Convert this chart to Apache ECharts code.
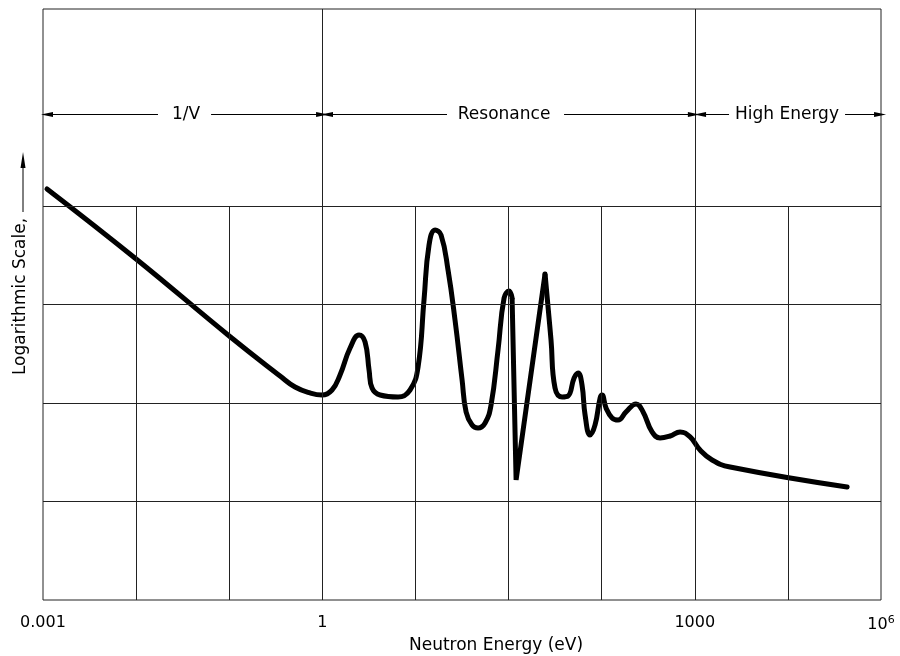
<!DOCTYPE html>
<html><head><meta charset="utf-8">
<script src="https://cdn.jsdelivr.net/npm/echarts@6/dist/echarts.min.js"></script>
<style>html,body{margin:0;padding:0;background:#fff}#c{width:900px;height:656px}</style>
</head><body><div id="c"></div>
<script>
// Schematic x axis: 9 equal divisions, labelled at a few positions
const tickPositions = [0, 3, 7, 9];
const tickLabels = ['0.001', '1', '1000', '10{sup|6}'];
// Header regions
const regionNames = ['1/V', 'Resonance', 'High Energy'];
const regionCenters = [1.536, 4.952, 7.99];
const regionArrowFrom = [1.235, 1.805, 4.339, 5.596, 7.368, 8.614];
const regionArrowTo   = [0.043, 2.997, 3.05, 6.99, 7.057, 8.99];
const arrowLevel = 4.93;
// Grid lines
const majorX = [3, 7];
const minorX = [1, 2, 4, 5, 6, 8];
const gridY = [1, 2, 3, 4];
// Cross-section curve (schematic log-log units)
const energyPos = [0.043,1.0,2.0,2.546,2.707,2.868,2.997,3.104,3.190,3.298,3.394,3.459,3.502,3.534,3.620,3.813,3.942,4.028,4.092,4.146,4.211,4.275,4.350,4.425,4.501,4.544,4.608,4.672,4.748,4.812,4.887,4.952,5.005,5.038,5.081,5.392,5.456,5.499,5.575,5.639,5.704,5.747,5.789,5.822,5.875,5.929,5.983,6.004,6.047,6.112,6.176,6.262,6.369,6.445,6.541,6.627,6.735,6.842,6.950,7.057,7.186,7.379,8.636];
const level = [4.173,3.462,2.680,2.274,2.162,2.102,2.081,2.132,2.284,2.558,2.690,2.619,2.335,2.152,2.081,2.061,2.132,2.365,3.046,3.604,3.756,3.706,3.350,2.843,2.234,1.909,1.777,1.746,1.797,1.980,2.538,3.066,3.137,3.066,1.218,3.310,2.640,2.152,2.061,2.071,2.254,2.305,2.183,1.878,1.675,1.777,2.051,2.081,1.949,1.848,1.827,1.909,1.990,1.909,1.706,1.645,1.665,1.706,1.655,1.523,1.421,1.350,1.147];
const sharpStart = 33, sharpEnd = 35;

const pts = energyPos.map((x, i) => [x, level[i]]);
const segA = pts.slice(0, sharpStart + 1);
const segB = pts.slice(sharpStart, sharpEnd + 1);
const segC = pts.slice(sharpEnd);

const FONT = 'DejaVu Sans';
const labelMap = {};
tickPositions.forEach((p, i) => labelMap[p] = tickLabels[i]);

const gridLines = [];
majorX.forEach(x => gridLines.push([{coord: [x, 0]}, {coord: [x, 6]}]));
minorX.forEach(x => gridLines.push([{coord: [x, 0]}, {coord: [x, 4]}]));
gridY.forEach(y => gridLines.push([{coord: [0, y]}, {coord: [9, y]}]));

const arrows = regionArrowFrom.map((f, i) => [{coord: [f, arrowLevel]}, {coord: [regionArrowTo[i], arrowLevel]}]);

const curveStyle = {color: '#000', width: 5, join: 'round', cap: 'round'};

const chart = echarts.init(document.getElementById('c'));
chart.setOption({
  animation: false,
  backgroundColor: '#fff',
  grid: {left: 43, right: 19, top: 9, bottom: 56, show: true, borderColor: '#222', borderWidth: 1, containLabel: false, outerBoundsMode: 'none'},
  xAxis: {
    type: 'value', min: 0, max: 9, interval: 1,
    name: 'Neutron Energy (eV)', nameLocation: 'middle', nameGap: 35,
    nameTextStyle: {fontFamily: FONT, fontSize: 17, color: '#000', padding: [0, 0, 0, 68]},
    axisLine: {show: false}, axisTick: {show: false}, splitLine: {show: false},
    axisLabel: {
      margin: 15, fontFamily: FONT, fontSize: 16, color: '#000',
      formatter: v => labelMap[v] !== undefined ? labelMap[v] : '',
      rich: {sup: {fontFamily: FONT, fontSize: 11, color: '#000', verticalAlign: 'top', padding: [0, 0, 8, 0]}}
    }
  },
  yAxis: {
    type: 'value', min: 0, max: 6, interval: 1,
    name: 'Logarithmic Scale,', nameLocation: 'middle', nameGap: 14, nameRotate: 90,
    nameTextStyle: {fontFamily: FONT, fontSize: 17, color: '#000', padding: [0, 0, 0, 16]},
    axisLine: {show: false}, axisTick: {show: false}, splitLine: {show: false}, axisLabel: {show: false}
  },
  graphic: [
    {type: 'line', shape: {x1: 23, y1: 212, x2: 23, y2: 166}, style: {stroke: '#000', lineWidth: 1}},
    {type: 'polygon', shape: {points: [[23, 152], [20.5, 168], [25.5, 168]]}, style: {fill: '#000'}}
  ],
  series: [
    {
      type: 'line', data: [], silent: true,
      markLine: {silent: true, symbol: ['none', 'none'], label: {show: false},
        lineStyle: {color: '#222', width: 1, type: 'solid'}, data: gridLines}
    },
    {
      type: 'line', data: [], silent: true,
      markLine: {silent: true, symbol: ['none', 'triangle'], symbolSize: [5, 12], label: {show: false},
        lineStyle: {color: '#000', width: 1, type: 'solid'}, data: arrows}
    },
    {
      type: 'scatter', silent: true, symbolSize: 1, itemStyle: {opacity: 0},
      data: regionCenters.map((x, i) => ({value: [x, arrowLevel], name: regionNames[i]})),
      label: {show: true, position: 'inside', formatter: p => p.name, fontFamily: FONT, fontSize: 17,
        color: '#000', textBorderWidth: 0, opacity: 1}
    },
    {type: 'line', data: segA, showSymbol: false, smooth: 0.45, lineStyle: curveStyle, silent: true},
    {type: 'line', data: segB, showSymbol: false, smooth: false, lineStyle: {color: '#000', width: 5, join: 'bevel', cap: 'butt'}, silent: true},
    {type: 'line', data: segC, showSymbol: false, smooth: 0.45, lineStyle: curveStyle, silent: true}
  ]
});
</script>
</body></html>
